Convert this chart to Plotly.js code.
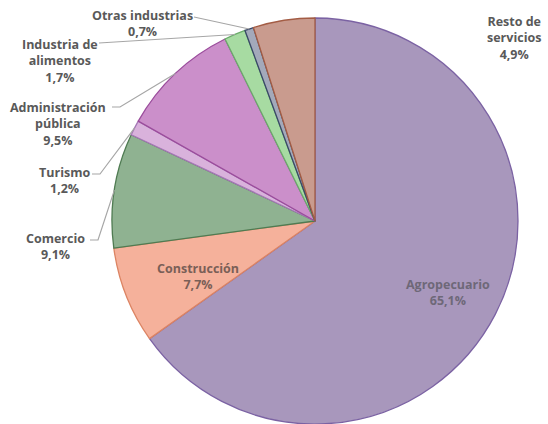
<!DOCTYPE html>
<html><head><meta charset="utf-8">
<script src="https://cdn.plot.ly/plotly-3.0.1.min.js"></script>
<style>html,body{margin:0;padding:0;background:#fff}#c{width:548px;height:424px}</style>
</head><body><div id="c"></div>
<script>
var categories = ["Agropecuario","Construcción","Comercio","Turismo","Administración pública","Industria de alimentos","Otras industrias","Resto de servicios"];
var values = [65.1, 7.7, 9.1, 1.2, 9.5, 1.7, 0.7, 4.9];
var labelText = ["Agropecuario<br>65,1%","Construcción<br>7,7%","Comercio<br>9,1%","Turismo<br>1,2%","Administración<br>pública<br>9,5%","Industria de<br>alimentos<br>1,7%","Otras industrias<br>0,7%","Resto de<br>servicios<br>4,9%"];
var fills = ["#a897bc","#f5b19b","#8fb291","#d9b2dc","#cb8fca","#a7dba2","#a3a9ba","#c99b8e"];
var edges = ["#7b62a3","#dc8463","#4f7b52","#a577b6","#9b4d9c","#6aab6a","#3a4868","#a35c44"];

var W=548,H=424;
var cx=315, cy=221, R=203;
var dom={x:[(cx-R)/W,(cx+R)/W], y:[1-(cy+R)/H, 1-(cy-R)/H]};

var lab = [
  {x:448,y:292,inside:true,color:"#6e6878"},
  {x:198,y:276,inside:true,color:"#7a5f57"},
  {x:55,y:246,sx:90,sy:240,ex:98},
  {x:64,y:180,sx:92,sy:174,ex:100},
  {x:58,y:124,sx:112,sy:107,ex:120},
  {x:60,y:61,sx:99,sy:43,ex:99},
  {x:142,y:24,sx:194,sy:17,ex:194},
  {x:514,y:38}
];

var total=values.reduce(function(a,b){return a+b;},0);
var annotations=[], shapes=[], cum=0;
for(var i=0;i<values.length;i++){
  var mid=(cum+values[i]/2)/total*2*Math.PI; cum+=values[i];
  var L=lab[i];
  annotations.push({xref:'paper',yref:'paper',x:L.x/W,y:1-L.y/H,xanchor:'center',yanchor:'middle',
    text:'<b>'+labelText[i]+'</b>',showarrow:false,align:'center',
    font:{family:'"Open Sans", sans-serif',size:12.5,color:L.color||'#595959'}});
  if(L.sx!==undefined){
    var px=cx+R*Math.sin(mid), py=cy-R*Math.cos(mid);
    shapes.push({type:'path',xref:'paper',yref:'paper',
      path:'M'+(L.sx/W)+','+(1-L.sy/H)+' L'+(L.ex/W)+','+(1-L.sy/H)+' L'+(px/W)+','+(1-py/H),
      line:{color:'#a6a6a6',width:1.2}});
  }
}

var trace={type:'pie',labels:categories,values:values,sort:false,direction:'clockwise',rotation:0,
  marker:{colors:fills,line:{color:edges,width:1.3}},textinfo:'none',hoverinfo:'label+percent',
  domain:dom,showlegend:false};

Plotly.newPlot('c',[trace],{width:W,height:H,margin:{l:0,r:0,t:0,b:0},paper_bgcolor:'#fff',
  showlegend:false,annotations:annotations,shapes:shapes},{displayModeBar:false,staticPlot:true});
</script></body></html>
